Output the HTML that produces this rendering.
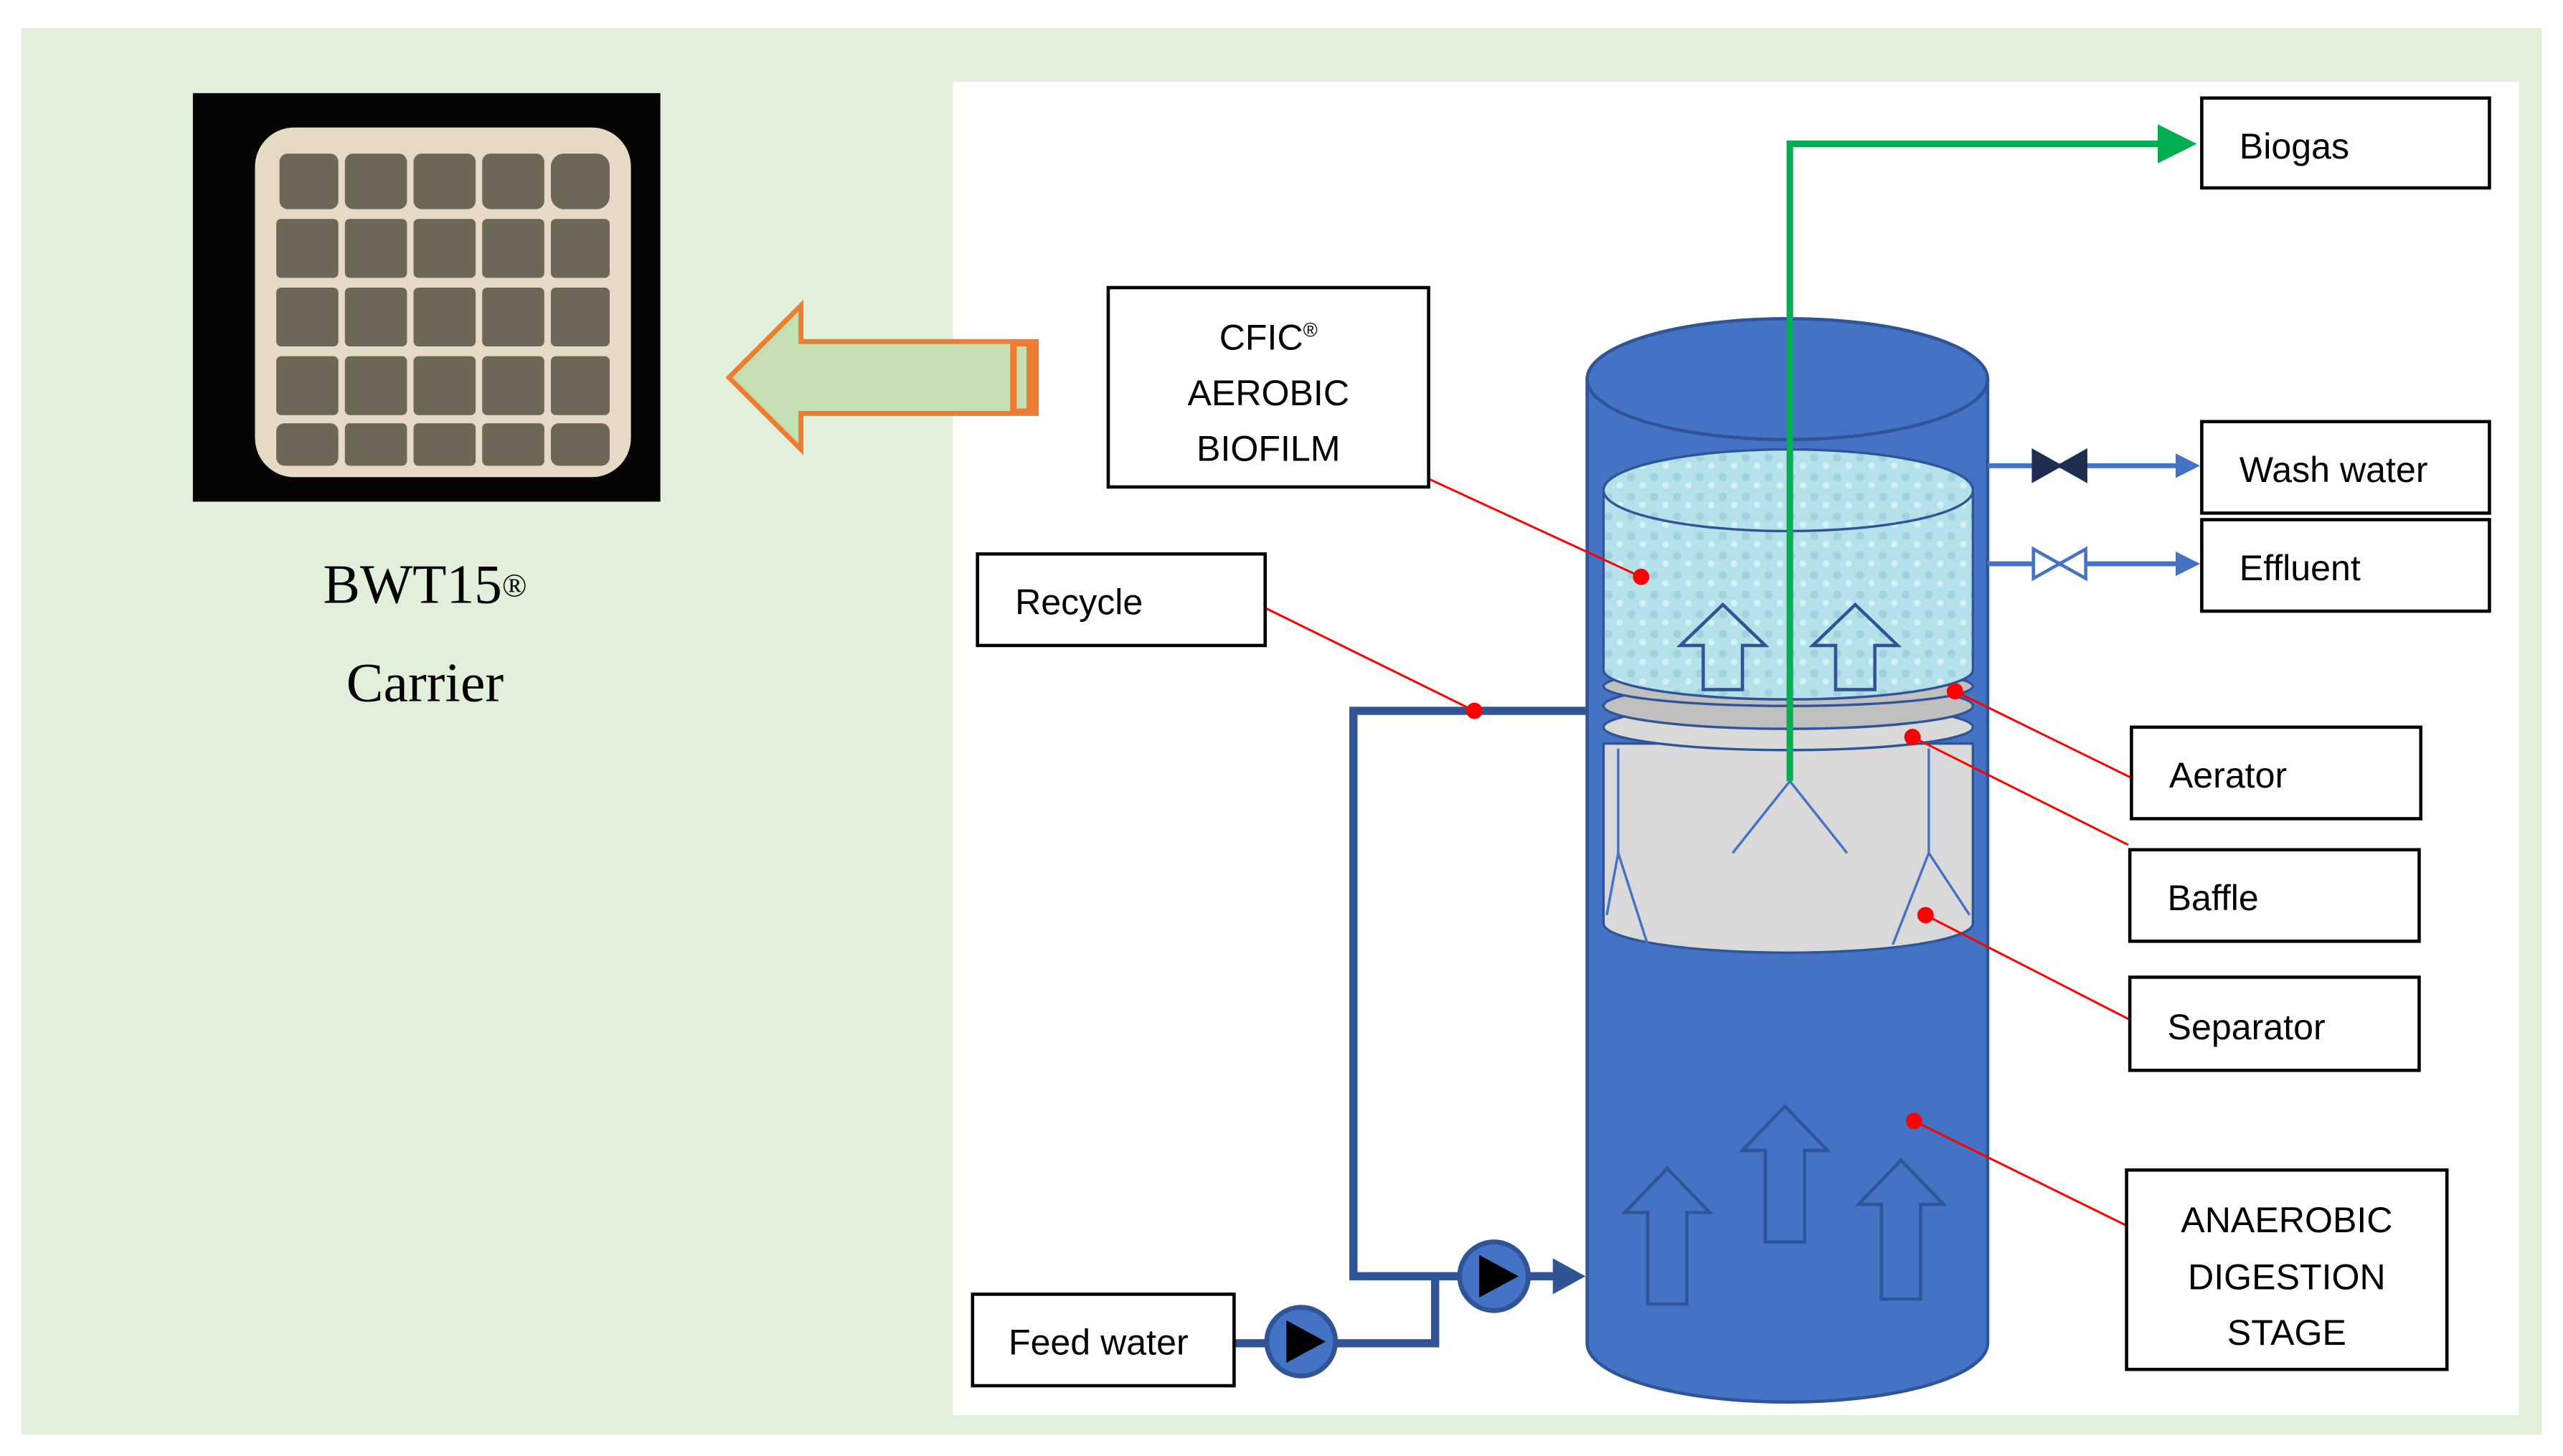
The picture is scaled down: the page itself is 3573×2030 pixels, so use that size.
<!DOCTYPE html>
<html><head><meta charset="utf-8"><style>html,body{margin:0;padding:0;background:#fff}svg{display:block}</style></head>
<body>
<svg width="3573" height="2030" viewBox="0 0 1568 891" preserveAspectRatio="none" xmlns="http://www.w3.org/2000/svg" font-family="Liberation Sans, sans-serif">
<defs>
<marker id="ga" markerWidth="6" markerHeight="6" refX="4" refY="3" orient="auto" markerUnits="strokeWidth"><path d="M0,0 L6,3 L0,6 Z" fill="#00b050"/></marker>
<marker id="ba" markerWidth="5" markerHeight="5" refX="3" refY="2.5" orient="auto" markerUnits="strokeWidth"><path d="M0,0 L5,2.5 L0,5 Z" fill="#4472c4"/></marker>
<pattern id="bub" width="14" height="12" patternUnits="userSpaceOnUse"><rect width="14" height="12" fill="#b5e2ea"/><circle cx="4" cy="4" r="2.5" fill="#9fd3df"/><circle cx="11" cy="9" r="2" fill="#d4f0f4"/></pattern>
</defs>
<rect x="0" y="0" width="1568" height="891" fill="#fff"/>
<rect x="13" y="17" width="1542" height="861" fill="#e2efda"/>
<rect x="583" y="50" width="958" height="816" fill="#fff"/>
<!-- photo -->
<rect x="118" y="57" width="286" height="250" fill="#050505"/>
<rect x="156" y="78" width="230" height="214" rx="24" fill="#e6dac6"/>
<g fill="#6c6756">
<rect x="171" y="94" width="36" height="34" rx="5"/><rect x="211" y="94" width="38" height="34" rx="5"/><rect x="253" y="94" width="38" height="34" rx="5"/><rect x="295" y="94" width="38" height="34" rx="5"/><rect x="337" y="94" width="36" height="34" rx="8"/>
<rect x="169" y="134" width="38" height="36" rx="3"/><rect x="211" y="134" width="38" height="36" rx="3"/><rect x="253" y="134" width="38" height="36" rx="3"/><rect x="295" y="134" width="38" height="36" rx="3"/><rect x="337" y="134" width="36" height="36" rx="3"/>
<rect x="169" y="176" width="38" height="36" rx="3"/><rect x="211" y="176" width="38" height="36" rx="3"/><rect x="253" y="176" width="38" height="36" rx="3"/><rect x="295" y="176" width="38" height="36" rx="3"/><rect x="337" y="176" width="36" height="36" rx="3"/>
<rect x="169" y="218" width="38" height="36" rx="3"/><rect x="211" y="218" width="38" height="36" rx="3"/><rect x="253" y="218" width="38" height="36" rx="3"/><rect x="295" y="218" width="38" height="36" rx="3"/><rect x="337" y="218" width="36" height="36" rx="3"/>
<rect x="169" y="259" width="38" height="26" rx="5"/><rect x="211" y="259" width="38" height="26" rx="3"/><rect x="253" y="259" width="38" height="26" rx="3"/><rect x="295" y="259" width="38" height="26" rx="3"/><rect x="337" y="259" width="36" height="26" rx="5"/>
</g>
<text x="260" y="369" font-family="Liberation Serif, serif" font-size="34" text-anchor="middle" fill="#000">BWT15<tspan font-size="20" dy="-4">®</tspan></text>
<text x="260" y="429" font-family="Liberation Serif, serif" font-size="34" text-anchor="middle" fill="#000">Carrier</text>
<!-- orange arrow -->
<path d="M446,231 L490,187 L490,209 L634,209 L634,253 L490,253 L490,275 Z" fill="#c6e0b4" stroke="#ed7d31" stroke-width="3"/>
<rect x="618" y="209" width="16" height="44" fill="#ed7d31"/>
<rect x="622" y="212" width="6" height="38" fill="#c6e0b4"/>
<!-- cylinder -->
<path d="M971,232 L971,822 A122.5,36 0 0 0 1216,822 L1216,232 Z" fill="#4472c4" stroke="#2f5597" stroke-width="2"/>
<ellipse cx="1093.5" cy="232" rx="122.5" ry="37" fill="#4472c4" stroke="#2f5597" stroke-width="2"/>
<!-- separator -->
<path d="M981,455 L981,565 A113,18 0 0 0 1207,565 L1207,455 Z" fill="#d9d9d9" stroke="#2f5597" stroke-width="1.5"/>
<g stroke="#4472c4" stroke-width="1.5" fill="none">
<path d="M990,458 L990,522 L983,560 M990,522 L1008,578"/>
<path d="M1180,458 L1180,522 L1205,560 M1180,522 L1158,578"/>
<path d="M1095,478 L1060,522 M1095,478 L1130,522"/>
</g>
<!-- baffle/aerator rings -->
<ellipse cx="1094" cy="445" rx="113" ry="14" fill="#d9d9d9" stroke="#2f5597" stroke-width="1.5"/>
<ellipse cx="1094" cy="432" rx="113" ry="14" fill="#bfbfbf" stroke="#2f5597" stroke-width="1.5"/>
<ellipse cx="1094" cy="420" rx="113" ry="12" fill="#c0c0c0" stroke="#2f5597" stroke-width="1.5"/>
<!-- biofilm -->
<path d="M981,300 L981,410 A113,18 0 0 0 1207,410 L1207,300 Z" fill="url(#bub)" stroke="#2f5597" stroke-width="1.5"/>
<ellipse cx="1094" cy="300" rx="113" ry="25" fill="url(#bub)" stroke="#2f5597" stroke-width="1.5"/>
<!-- up arrows -->
<g fill="none" stroke="#2f5597" stroke-width="2">
<path d="M1042,422 L1042,395 L1028,395 L1054,370 L1080,395 L1066,395 L1066,422 Z"/>
<path d="M1123,422 L1123,395 L1109,395 L1135,370 L1161,395 L1147,395 L1147,422 Z"/>
<path d="M1008,798 L1008,742 L994,742 L1020,715 L1046,742 L1032,742 L1032,798 Z"/>
<path d="M1080,760 L1080,704 L1066,704 L1092,677 L1118,704 L1104,704 L1104,760 Z"/>
<path d="M1151,795 L1151,737 L1137,737 L1163,710 L1189,737 L1175,737 L1175,795 Z"/>
</g>
<!-- green biogas -->
<path d="M1095,478 L1095,88 L1336,88" fill="none" stroke="#00b050" stroke-width="4" marker-end="url(#ga)"/>
<!-- wash/effluent pipes -->
<path d="M1216,285 L1340,285" stroke="#4472c4" stroke-width="3" marker-end="url(#ba)"/>
<path d="M1216,345 L1340,345" stroke="#4472c4" stroke-width="3" marker-end="url(#ba)"/>
<path d="M1244,276 L1276,294 L1276,276 L1244,294 Z" fill="#1f2d50" stroke="#1f2d50" stroke-width="2"/>
<path d="M1244,336 L1276,354 L1276,336 L1244,354 Z" fill="#fff" stroke="#4472c4" stroke-width="2"/>
<!-- recycle/feed pipes -->
<g fill="none" stroke="#2f5597" stroke-width="5">
<path d="M971,435 L828,435 L828,781 L955,781"/>
<path d="M755,822 L878,822 L878,781"/>
</g>
<path d="M950,770 L970,781 L950,792 Z" fill="#2f5597"/>
<circle cx="914" cy="781" r="21" fill="#4472c4" stroke="#2f5597" stroke-width="3"/>
<path d="M905,768 L929,781 L905,794 Z" fill="#000"/>
<circle cx="796" cy="821" r="21" fill="#4472c4" stroke="#2f5597" stroke-width="3"/>
<path d="M787,808 L811,821 L787,834 Z" fill="#000"/>
<!-- red leaders -->
<g stroke="#ff0000" stroke-width="1.3" fill="none">
<path d="M874,293 L1004,353"/><path d="M774,372 L902,435"/><path d="M1304,476 L1196,423"/><path d="M1302,517 L1170,451"/><path d="M1303,624 L1178,560"/><path d="M1301,750 L1171,686"/>
</g>
<g fill="#ff0000"><circle cx="1004" cy="353" r="5"/><circle cx="902" cy="435" r="5"/><circle cx="1196" cy="423" r="5"/><circle cx="1170" cy="451" r="5"/><circle cx="1178" cy="560" r="5"/><circle cx="1171" cy="686" r="5"/></g>
<!-- boxes -->
<g fill="#fff" stroke="#000" stroke-width="2">
<rect x="1347" y="60" width="176" height="55"/><rect x="1347" y="258" width="176" height="56"/><rect x="1347" y="318" width="176" height="56"/>
<rect x="1304" y="445" width="177" height="56"/><rect x="1303" y="520" width="177" height="56"/><rect x="1303" y="598" width="177" height="57"/>
<rect x="1301" y="716" width="196" height="122"/><rect x="678" y="176" width="196" height="122"/><rect x="598" y="339" width="176" height="56"/><rect x="595" y="792" width="160" height="56"/>
</g>
<g font-size="22" fill="#000">
<text x="1370" y="97">Biogas</text><text x="1370" y="295">Wash water</text><text x="1370" y="355">Effluent</text>
<text x="1327" y="482">Aerator</text><text x="1326" y="557">Baffle</text><text x="1326" y="636">Separator</text>
<text x="621" y="376">Recycle</text><text x="617" y="829">Feed water</text>
<g text-anchor="middle"><text x="1399" y="754">ANAEROBIC</text><text x="1399" y="789">DIGESTION</text><text x="1399" y="823">STAGE</text>
<text x="776" y="214">CFIC<tspan font-size="12" dy="-8">®</tspan></text><text x="776" y="248">AEROBIC</text><text x="776" y="282">BIOFILM</text></g>
</g>
</svg>
</body></html>
